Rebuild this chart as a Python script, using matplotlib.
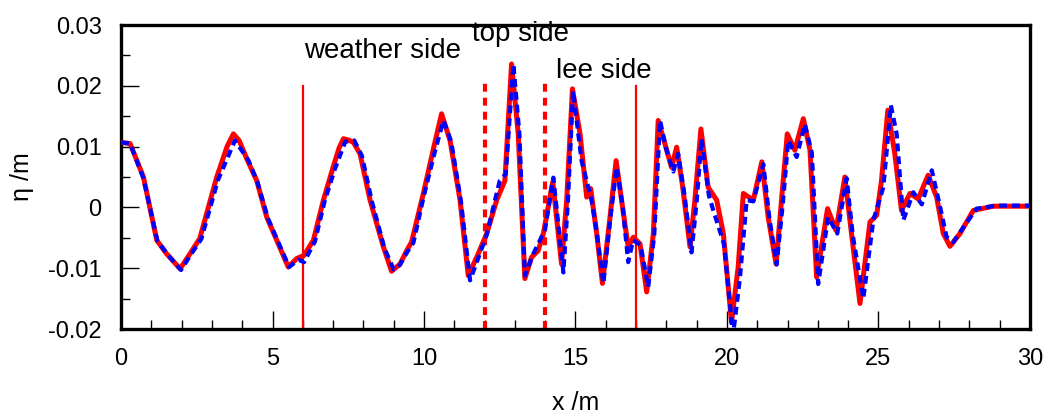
import numpy as np
import matplotlib
matplotlib.use('Agg')
import matplotlib.pyplot as plt
from matplotlib.ticker import MultipleLocator

plt.rcParams['font.family'] = ['Liberation Sans', 'DejaVu Sans']

# measured free surface (red, solid)
x_red = [0.0, 0.3, 0.74, 1.18, 1.5, 1.95, 2.28, 2.6, 3.16, 3.5, 3.71, 3.9, 4.15, 4.48, 4.81,
         5.14, 5.52, 5.8, 6.04, 6.35, 6.68, 7.0, 7.2, 7.34, 7.5, 7.67, 7.89, 8.22, 8.66, 8.93,
         9.21, 9.43, 9.59, 9.98, 10.3, 10.58, 10.86, 11.19, 11.46, 11.74, 12.07,
         12.4, 12.67, 12.89, 13.11, 13.33, 13.55, 13.77, 13.94, 14.25, 14.54, 14.71,
         14.9, 15.15, 15.37, 15.5, 15.7, 15.89, 16.14, 16.34, 16.52, 16.74, 16.91,
         17.13, 17.35, 17.57, 17.73, 17.95, 18.17, 18.34, 18.54, 18.78, 18.94,
         19.14, 19.38, 19.66, 19.88, 20.15, 20.37, 20.54, 20.87, 21.15, 21.36,
         21.62, 21.8, 21.99, 22.24, 22.52, 22.74, 22.96, 23.32, 23.6, 23.89, 24.11,
         24.39, 24.72, 24.94, 25.1, 25.31, 25.54, 25.76, 26.04, 26.31, 26.64, 26.92,
         27.14, 27.36, 27.69, 28.13, 28.79, 29.89, 30.0]
eta_red = [0.0107, 0.0105, 0.005, -0.0054, -0.0076, -0.0101, -0.0076, -0.0051,
           0.005, 0.0100, 0.0121, 0.0110, 0.008, 0.0044, -0.0016, -0.0054, -0.0098, -0.0084, -0.0079,
           -0.0054, 0.0012, 0.0066, 0.0098, 0.0113, 0.0111, 0.0107, 0.0088, 0.0012, -0.0065, -0.0105,
           -0.0093, -0.0071, -0.0057, 0.0023, 0.0094, 0.0154, 0.011, 0.0012, -0.0112,
           -0.0082, -0.0043, 0.0012, 0.0044, 0.0236, 0.0121, -0.0117, -0.0082,
           -0.0071, -0.0043, 0.0042, -0.0093, 0.0012, 0.0195, 0.0121, 0.0017, 0.0031,
           -0.0043, -0.0125, -0.0016, 0.0077, 0.0012, -0.0065, -0.0049, -0.006,
           -0.0139, -0.0043, 0.0143, 0.0105, 0.0066, 0.0099, 0.0033, -0.0065, 0.0012,
           0.0129, 0.0033, 0.0012, -0.0043, -0.0189, -0.0098, 0.0023, 0.0012, 0.0075,
           -0.0016, -0.0093, 0.0012, 0.0121, 0.0094, 0.0146, 0.0094, -0.0115,
           -0.0002, -0.0038, 0.005, -0.0043, -0.0158, -0.0024, -0.0013, 0.0044,
           0.016, 0.0088, -0.0005, 0.0023, 0.0014, 0.0053, 0.0017, -0.0043, -0.0064,
           -0.0043, -0.0005, 0.0002, 0.0002, 0.0002]

# computed free surface (blue, dashed)
x_blue = [0.0, 0.3, 0.74, 1.2, 1.55, 1.98, 2.3, 2.65, 3.2, 3.76, 4.2, 4.5, 4.85,
          5.18, 5.55, 5.85, 6.04, 6.4, 6.72, 7.05, 7.4, 7.7, 7.95, 8.28, 8.7, 9.0,
          9.2, 9.45, 9.65, 10.0, 10.35, 10.64, 10.9, 11.22, 11.52, 11.78, 12.07,
          12.5, 12.7, 12.95, 13.15, 13.33, 13.6, 13.82, 14.0, 14.27, 14.6, 14.75,
          14.92, 15.2, 15.53, 15.7, 15.92, 16.15, 16.36, 16.55, 16.74, 16.9, 17.15,
          17.4, 17.6, 17.79, 18.0, 18.23, 18.39, 18.6, 18.83, 19.0, 19.16, 19.4,
          19.55, 19.9, 20.2, 20.43, 20.65, 20.87, 21.2, 21.4, 21.64, 21.85, 22.02,
          22.3, 22.57, 22.8, 23.01, 23.34, 23.64, 23.95, 24.15, 24.5, 24.83, 25.16,
          25.41, 25.6, 25.82, 26.15, 26.43, 26.76, 27.03, 27.25, 27.47, 27.8, 28.24,
          28.9, 29.9, 30.0]
eta_blue = [0.0107, 0.0105, 0.0048, -0.0055, -0.0078, -0.0103, -0.0078, -0.0052,
            0.0045, 0.011, 0.0078, 0.0042, -0.0018, -0.0056, -0.0098, -0.0086,
            -0.009, -0.0056, 0.001, 0.0062, 0.0108, 0.011, 0.0085, 0.001, -0.0068,
            -0.0102, -0.0095, -0.0073, -0.0058, 0.002, 0.009, 0.0143, 0.0108, 0.001,
            -0.012, -0.0085, -0.0045, 0.0044, 0.0055, 0.0236, 0.012, -0.0112,
            -0.0077, -0.0055, -0.0035, 0.0049, -0.0107, 0.001, 0.0192, 0.0077,
            0.0012, -0.004, -0.0125, -0.0018, 0.0066, 0.0005, -0.009, -0.0054,
            -0.0062, -0.0131, -0.0045, 0.0143, 0.0095, 0.0059, 0.0088, 0.002,
            -0.0074, 0.001, 0.0113, 0.002, -0.0005, -0.006, -0.021, -0.0115, 0.0012,
            0.001, 0.0071, -0.0018, -0.0094, 0.001, 0.011, 0.0083, 0.0137, 0.009,
            -0.0126, -0.0016, -0.0043, 0.0048, -0.0045, -0.015, -0.0021, 0.0033,
            0.0168, 0.0121, -0.0021, 0.0025, 0.0005, 0.0061, 0.0002, -0.0049,
            -0.0057, -0.0033, -0.0002, 0.0003, 0.0003, 0.0003]

solid_marks = [6, 17]
dotted_marks = [12, 14]
region_labels = ['weather side', 'top side', 'lee side']
label_x = [6.05, 11.6, 14.35]
label_y = [0.0258, 0.0286, 0.0225]

fig = plt.figure(figsize=(10.45, 4.17), dpi=100)
ax = fig.add_axes([0.1158, 0.211, 0.8698, 0.729])

ax.plot(x_red, eta_red, color='red', lw=3.6, solid_joinstyle='round',
        solid_capstyle='round', zorder=3)
ax.plot(x_blue, eta_blue, color='blue', lw=3.0, dashes=(1.9, 1.2), zorder=4)

for xm in solid_marks:
    ax.plot([xm, xm], [-0.02, 0.02], color='red', lw=1.6, zorder=2)
for xm in dotted_marks:
    ax.plot([xm, xm], [-0.02, 0.0205], color='red', lw=3.0, dashes=(1.9, 1.45), zorder=2)

for t, lx, ly in zip(region_labels, label_x, label_y):
    ax.text(lx, ly, t, fontsize=20, va='center', ha='left')

ax.set_xlim(0, 30)
ax.set_ylim(-0.02, 0.03)
ax.xaxis.set_major_locator(MultipleLocator(5))
ax.xaxis.set_minor_locator(MultipleLocator(1))
ax.yaxis.set_minor_locator(MultipleLocator(0.005))
ax.set_yticks([0.03, 0.02, 0.01, 0, -0.01, -0.02])
ax.set_yticklabels(['0.03', '0.02', '0.01', '0', '-0.01', '-0.02'])
ax.tick_params(which='major', direction='in', length=13, width=1, labelsize=17, pad=14)
ax.tick_params(which='minor', direction='in', length=6.5, width=1)
for s in ax.spines.values():
    s.set_linewidth(2.4)

ax.set_xlabel('x /m', fontsize=18, labelpad=15)
ax.set_ylabel('η /m', fontsize=18, labelpad=10)

fig.savefig('out.png', dpi=100)
